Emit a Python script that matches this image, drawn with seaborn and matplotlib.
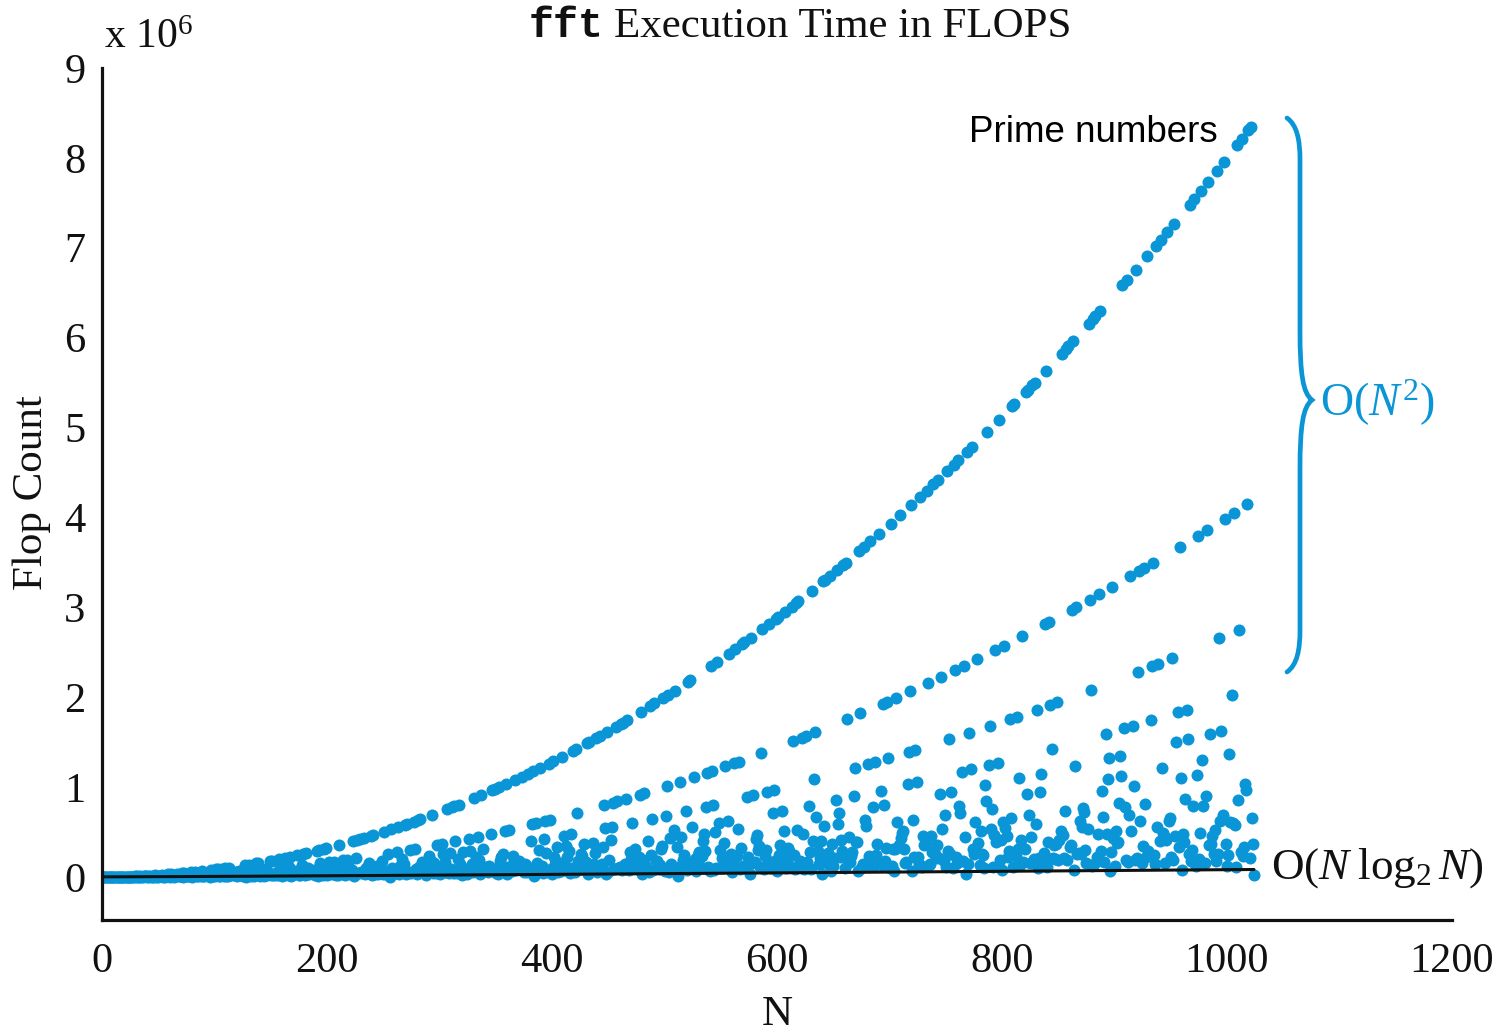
import matplotlib
matplotlib.use("Agg")
import matplotlib.pyplot as plt
from matplotlib.path import Path
from matplotlib.patches import PathPatch
import seaborn as sns

# flop count of fft(x) for N = 1 .. 1024, in thousands of flops
flops_001_064 = [0, 0, 0, 0, 0, 0, 0, 0, 0, 0, 1, 0, 1, 1, 1, 0, 2, 1, 3, 1, 2, 2, 4, 1, 2, 3, 2, 2, 7, 2, 8, 0,
                 4, 5, 3, 2, 11, 6, 5, 2, 13, 3, 15, 4, 4, 9, 18, 2, 5, 4, 8, 6, 22, 4, 7, 3, 10, 14, 28, 4, 30, 16, 7, 1]
flops_065_165 = [9, 8, 36, 10, 14, 7, 40, 4, 43, 22, 8, 12, 11, 10, 50, 4, 8, 27, 55, 7, 15, 30, 22, 8, 63, 8, 15, 17, 25, 36, 18,
                 3, 75, 11, 13, 8, 82, 17, 85, 11, 13, 45, 92, 8, 95, 14, 36, 7, 102, 20, 26, 27, 18, 56, 23, 8, 21, 60, 43, 31, 15, 13,
                 129, 2, 47, 19, 137, 15, 28, 72, 15, 19, 150, 29, 155, 14, 56, 81, 27, 8, 39, 86, 20, 44, 178, 16, 182, 24, 28, 22,
                 45, 21, 197, 100, 71, 8, 39, 16, 213, 54, 25]
flops_166_365 = [111, 223, 14, 35, 30, 34, 60, 239, 45, 24, 17, 88, 127, 256, 17, 262, 29, 94, 35, 62, 51, 42, 71, 24, 37,
                 292, 7, 298, 151, 33, 23, 310, 27, 317, 17, 113, 164, 58, 33, 75, 170, 48, 23, 50, 26, 356, 91, 126, 184, 83,
                 17, 66, 191, 133, 29, 53, 71, 398, 15, 29, 205, 412, 41, 420, 52, 39, 55, 434, 36, 98, 112, 155, 46, 457, 17,
                 465, 43, 29, 120, 37, 87, 63, 63, 171, 30, 504, 27, 69, 259, 51, 4, 528, 95, 91, 38, 73, 275, 553, 31, 123,
                 56, 197, 145, 579, 31, 588, 39, 50, 301, 46, 59, 614, 310, 83, 29, 632, 113, 641, 162, 62, 55, 110, 17, 79, 79,
                 233, 172, 687, 41, 151, 89, 48, 356, 86, 32, 120, 365, 252, 49, 161, 57, 754, 46, 262, 90, 774, 42, 784, 395, 45,
                 201, 804, 143, 102, 17, 282, 78, 93, 32, 60, 426, 293, 110, 142, 51, 876, 222, 115, 447, 193, 30, 909, 71, 315, 61,
                 115, 69, 58, 120, 86, 480, 963, 90, 974, 48, 62, 34, 997, 176, 216, 255, 77, 513, 1031, 34, 110, 525, 73, 60, 228]
flops_366_560 = [188, 1078, 71, 139, 125, 178, 103, 1113, 85, 54, 144, 127, 49, 1149, 74, 396, 584, 1174, 15, 71, 597, 152, 303, 1211, 66,
                 125, 46, 421, 622, 265, 55, 1261, 634, 93, 35, 1286, 226, 142, 328, 55, 118, 156, 68, 1338, 152, 460, 341, 218, 97, 292,
                 47, 474, 101, 1404, 52, 1418, 713, 179, 182, 92, 253, 232, 368, 93, 166, 1486, 35, 1500, 133, 129, 382, 147, 267, 1542, 59,
                 71, 107, 1570, 144, 335, 797, 544, 30, 1613, 58, 188, 410, 558, 825, 91, 83, 1671, 840, 95, 105, 1700, 79, 1715, 111, 145,
                 870, 1745, 73, 278, 196, 603, 226, 204, 312, 110, 93, 225, 915, 1836, 36, 192, 930, 128, 87, 396, 59, 1897, 241, 649, 75,
                 1929, 175, 181, 127, 87, 127, 310, 344, 1992, 62, 681, 1009, 2024, 55, 428, 139, 118, 518, 2073, 103, 327, 9, 115, 1058, 445,
                 192, 240, 183, 731, 78, 2172, 147, 2188, 551, 84, 1108, 202, 63, 195, 247, 276, 113, 230, 394, 479, 291, 782, 1159, 108, 63,
                 2341, 1176, 799, 79, 497, 102, 2394, 603, 294, 94, 212, 118, 380, 1229, 200, 620, 2482, 166, 250, 58]
flops_561_736 = [139, 1264, 2536, 228, 533, 1283, 86, 326, 2590, 124, 2608, 112, 889, 222, 152, 35, 2663, 158, 908, 160, 418,
                 467, 298, 345, 112, 1375, 2757, 82, 236, 303, 946, 180, 2813, 96, 138, 713, 965, 173, 2870, 66, 2890, 242,
                 352, 732, 131, 505, 2948, 98, 190, 323, 293, 115, 3006, 1509, 241, 92, 3046, 525, 3065, 181, 159, 1549,
                 478, 85, 100, 1569, 166, 791, 272, 92, 3185, 403, 1084, 1609, 671, 287, 138, 205, 394, 35, 3287, 566, 3308,
                 157, 263, 187, 3349, 66, 363, 121, 214, 853, 3411, 587, 713, 220, 415, 286, 3474, 103, 3495, 1754, 175, 445,
                 165, 230, 277, 895, 1210, 387, 386, 60, 3623, 1818, 103, 143, 3667, 631, 565, 124, 1253, 231, 3732, 140,
                 778, 117, 1275, 242, 364, 172, 3820, 960, 133, 1928, 801, 182, 323, 1950, 1320, 98, 3931, 125, 315, 70, 310,
                 1995, 611, 354, 4021, 433, 483, 511, 308, 156, 166, 1028, 1388, 2064, 4136, 69, 634, 221, 1411, 1051, 226,
                 147, 4228, 121, 105, 457, 351, 378, 4298, 2156, 129, 143]
flops_737_864 = [460, 279, 4369, 252, 207, 358, 4416, 207, 918, 2228, 532, 171, 683, 110, 4512, 289, 1530, 255, 942, 100, 4584, 2300,
                 225, 150, 4633, 794, 708, 1170, 171, 2349, 442, 31, 4731, 143, 1604, 1195, 4780, 305, 254, 607, 292, 2423, 374, 134,
                 512, 252, 238, 94, 1017, 844, 4955, 1245, 1679, 532, 759, 112, 469, 2523, 388, 1270, 5082, 187, 409, 72,
                 609, 2574, 540, 453, 225, 285, 1756, 658, 5236, 112, 5262, 237, 1782, 314, 1095, 137,
                 405, 2678, 170, 305, 5392, 922, 5419, 684, 158, 438, 5471, 195, 5498, 586, 1861, 97,
                 207, 949, 1149, 204, 268, 2811, 5631, 106, 390, 2838, 1915, 1428, 210, 360, 197, 366,
                 1943, 185, 408, 508, 5821, 466, 205, 738, 5876, 187, 5903, 334, 351, 2974, 5958, 71]
flops_865_1024 = [1232, 3002, 257, 267, 626, 259, 557, 766, 719, 295, 154, 536, 6153, 3085, 2081, 120,
                  6209, 143, 6238, 216, 474, 3142, 6294, 289, 953, 671, 164, 1595, 472, 1089, 1317, 63,
                  280, 3227, 432, 119, 505, 377, 383, 823, 1347, 1118, 6581, 1653, 778, 184, 6639, 168,
                  687, 3343, 505, 1682, 1012, 193, 6756, 212, 2284, 3402, 620, 159, 348, 3432, 808, 225,
                  6904, 292, 246, 1741, 2344, 3491, 247, 148, 7024, 557, 2374, 395, 7084, 1208, 483, 453,
                  159, 411, 7174, 626, 653, 222, 2435, 188, 7266, 452, 1497, 1832, 329, 3673, 1105, 73,
                  477, 387, 871, 1862, 1529, 257, 7481, 176, 302, 793, 7543, 121, 1136, 3797, 203, 484,
                  7636, 1301, 783, 153, 903, 3859, 7730, 352, 1592, 365, 450, 257, 522, 176, 7857, 256,
                  2653, 622, 1624, 689, 7952, 3986, 368, 126, 248, 1365, 610, 2020, 603, 4050, 580, 113,
                  8145, 858, 2750, 279, 8209, 237, 333, 1038, 968, 4147, 8307, 208, 8340, 656, 368, 20]

# reference curve O(N log2 N), in millions
line_n = [1, 64, 128, 256, 512, 768, 1024]
line_y = [0.0, 0.003, 0.007, 0.016, 0.037, 0.059, 0.082]

flop_k = (flops_001_064 + flops_065_165 + flops_166_365 + flops_366_560
          + flops_561_736 + flops_737_864 + flops_865_1024)
n_values = list(range(1, len(flop_k) + 1))
flop_m = [k / 1000 for k in flop_k]

blue = "#0A96D6"
ink = "#111111"
W, H = 1504, 1033

sns.set_style("white")
plt.rcParams["font.family"] = ["Liberation Serif", "DejaVu Serif"]
plt.rcParams["mathtext.fontset"] = "custom"
plt.rcParams["mathtext.rm"] = "Liberation Serif"
plt.rcParams["mathtext.it"] = "Liberation Serif:italic"
plt.rcParams["text.color"] = ink

fig = plt.figure(figsize=(W / 100, H / 100), dpi=100)
ax = fig.add_axes([102 / W, 1 - 920 / H, (1452 - 102) / W, (920 - 68) / H])

def px(x, y):
    return (x / W, 1 - y / H)

sns.scatterplot(x=n_values, y=flop_m, ax=ax, s=75, color=blue, linewidth=0, zorder=2)
sns.lineplot(x=line_n, y=line_y, ax=ax, color=ink, linewidth=2.2, zorder=3)

ax.set_xlim(0, 1200)
ax.set_ylim(-0.48, 9)
ax.set_xticks(range(0, 1201, 200))
ax.set_yticks(range(0, 10))
for s in ["top", "right"]:
    ax.spines[s].set_visible(False)
for s in ["left", "bottom"]:
    ax.spines[s].set_linewidth(2.3)
    ax.spines[s].set_color(ink)
ax.tick_params(direction="in", length=10, width=2.2, labelsize=30.5, color=ink,
               labelcolor=ink)
ax.tick_params(axis="x", pad=16)
ax.tick_params(axis="y", pad=12)
ax.set_xlabel("")
ax.set_ylabel("")

# title and axis texts
fig.text(*px(604, 37), "fft", ha="right", va="baseline", family="Liberation Mono",
         weight="bold", fontsize=30)
fig.text(*px(614, 37), "Execution Time in FLOPS", ha="left", va="baseline", fontsize=31)
fig.text(*px(104, 48), r"x 10$^6$", ha="left", va="baseline", fontsize=30)
fig.text(*px(32, 493), "Flop Count", rotation=90, ha="center", va="center", fontsize=31)
fig.text(*px(777, 1015), "N", ha="center", va="center", fontsize=31)

# annotations
fig.text(*px(1218, 133), "Prime numbers", ha="right", va="center",
         family="Liberation Sans", fontsize=26.5, color="black")
fig.text(*px(1320, 403), r"$\mathrm{O}(N^2)$", ha="left", va="center", fontsize=33, color=blue)
fig.text(*px(1271, 868), r"$\mathrm{O}(N\;\log_2 N)$", ha="left", va="center", fontsize=32.5,
         color=ink)

# curly brace
pts = [(1287, 118), (1297, 125), (1300, 140), (1300, 160),
       (1300, 330),
       (1300, 375), (1303, 393), (1312, 400),
       (1303, 407), (1300, 425), (1300, 470),
       (1300, 630),
       (1300, 650), (1297, 665), (1287, 672)]
codes = [Path.MOVETO, Path.CURVE4, Path.CURVE4, Path.CURVE4,
         Path.LINETO,
         Path.CURVE4, Path.CURVE4, Path.CURVE4,
         Path.CURVE4, Path.CURVE4, Path.CURVE4,
         Path.LINETO,
         Path.CURVE4, Path.CURVE4, Path.CURVE4]
brace = Path([px(x, y) for x, y in pts], codes)
fig.patches.append(PathPatch(brace, transform=fig.transFigure, fill=False,
                             edgecolor=blue, linewidth=3.4, capstyle="round"))

fig.savefig("out.png", dpi=100)
